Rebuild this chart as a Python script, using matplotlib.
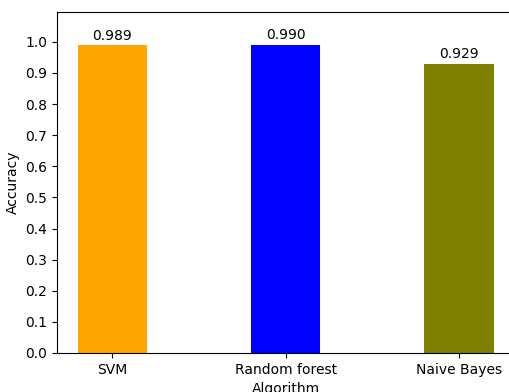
import matplotlib.pyplot as plt

# Datos
algoritmos = ["SVM", "Random forest", "Naive Bayes"]
precision = [0.989, 0.990, 0.929]
colores = ["orange", "blue", "olive"]
ticks_y = [0.0, 0.1, 0.2, 0.3, 0.4, 0.5, 0.6, 0.7, 0.8, 0.9, 1.0]

fig = plt.figure(figsize=(5.09, 3.92), dpi=100)
ax = fig.add_axes([57 / 509, 39 / 392, 457.5 / 509, 341 / 392])

barras = ax.bar(algoritmos, precision, color=colores, width=0.4)
ax.bar_label(barras, fmt="%.3f", padding=2)

ax.set_xlim(-0.32, 2.32)
ax.set_ylim(0, 1.096)
ax.set_yticks(ticks_y)
ax.set_xlabel("Algorithm")
ax.set_ylabel("Accuracy")

fig.savefig("out.png", dpi=100)
